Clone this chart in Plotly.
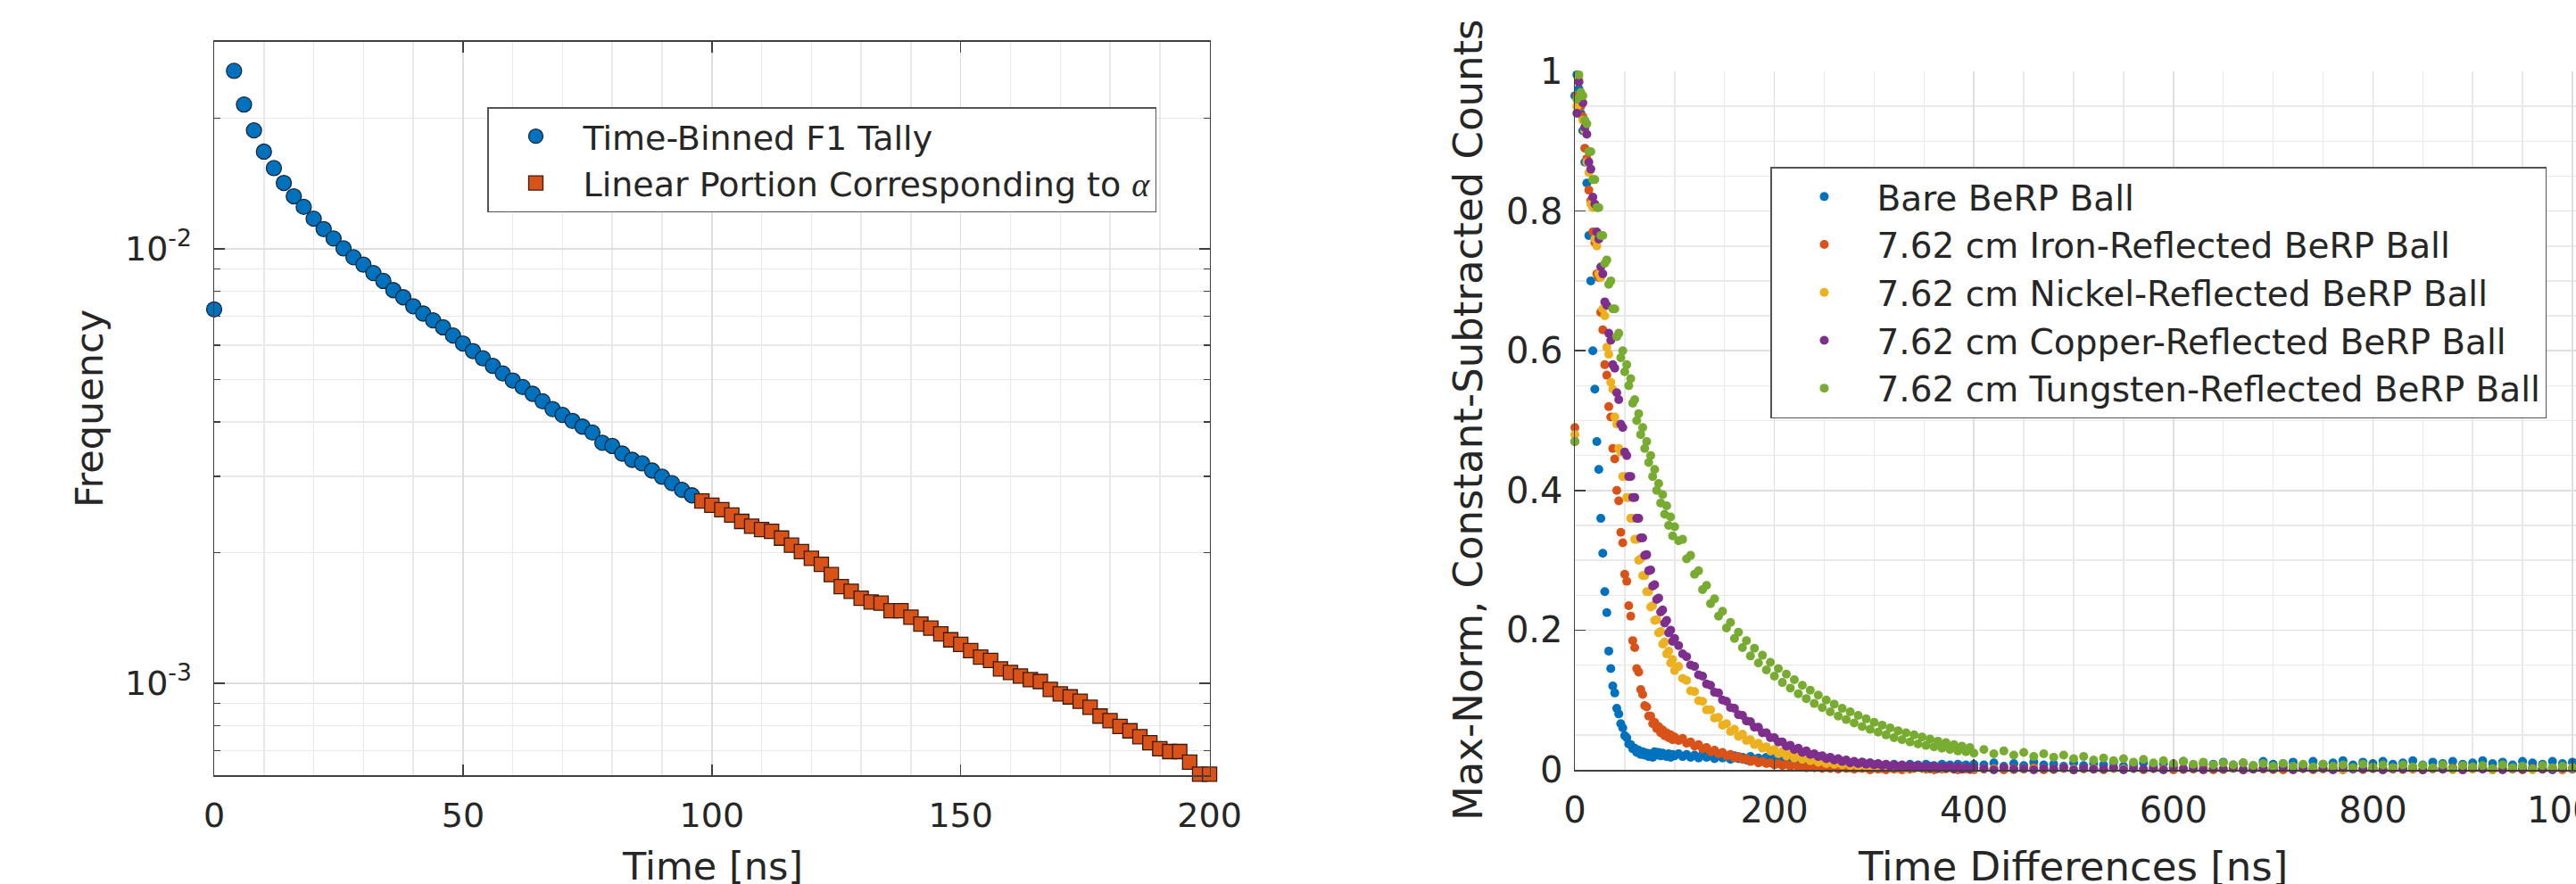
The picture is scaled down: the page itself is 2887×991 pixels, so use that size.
import math
import plotly.graph_objects as go

# ---------------- Left panel data (time-binned F1 tally) ----------------
t_tally = list(range(0, 97, 2))
freq_tally = [0.00726, 0.0300, 0.0257, 0.0215, 0.01875, 0.01675, 0.01535, 0.01419, 0.01322, 0.0125,
              0.01174, 0.01111, 0.01057, 0.01003, 0.00957, 0.00920, 0.0088, 0.00844, 0.00804, 0.00774,
              0.00738, 0.0071, 0.00685, 0.0066, 0.00632, 0.00606, 0.00582, 0.0056, 0.00538, 0.00517,
              0.00498, 0.00481, 0.00464, 0.00446, 0.00428, 0.00415, 0.00402, 0.0039, 0.00378, 0.00358,
              0.00352, 0.00338, 0.00327, 0.00321, 0.00309, 0.00299, 0.00289, 0.00279, 0.00271]
t_linear = list(range(98, 201, 2))
freq_linear = [0.00263, 0.00257, 0.00251, 0.00244, 0.00236, 0.0023, 0.00226, 0.00224, 0.00216, 0.00208,
               0.00201, 0.00194, 0.00188, 0.00178, 0.00167, 0.00163, 0.00157, 0.00154, 0.00153, 0.00147,
               0.00147, 0.00142, 0.00137, 0.00134, 0.0013, 0.00126, 0.00123, 0.00119, 0.00115, 0.00113,
               0.00108, 0.00106, 0.00104, 0.00102, 0.00101, 0.000969, 0.000946, 0.000931, 0.00091, 0.000881,
               0.000841, 0.000821, 0.000796, 0.000778, 0.000754, 0.00073, 0.000707, 0.000697, 0.000697, 0.000659,
               0.000618, 0.000618]
freq_tick_vals = [0.001, 0.01]
freq_tick_text = ["10<sup>-3</sup>", "10<sup>-2</sup>"]

# ---------------- Right panel data (time differences) ----------------
t_diff = list(range(0, 101, 2)) + list(range(104, 401, 4)) + list(range(410, 1001, 10))

bare = [0.965, 0.995, 0.975, 0.94, 0.915, 0.87, 0.84, 0.765, 0.70, 0.60,
        0.545, 0.47, 0.43, 0.36, 0.31, 0.255, 0.225, 0.17, 0.145, 0.12,
        0.11, 0.088, 0.08, 0.066, 0.06, 0.049, 0.046, 0.037, 0.036, 0.030,
        0.031, 0.025, 0.028, 0.022, 0.026, 0.021, 0.024, 0.019, 0.023, 0.018,
        0.026, 0.021, 0.025, 0.020, 0.024, 0.022, 0.019, 0.023, 0.018, 0.022,
        0.020,
        0.023, 0.019, 0.022, 0.018, 0.021, 0.017, 0.022, 0.018, 0.020, 0.016,
        0.021, 0.017, 0.019, 0.015, 0.020, 0.016, 0.018, 0.014, 0.019, 0.015,
        0.017, 0.014, 0.018, 0.013, 0.017, 0.014, 0.016, 0.012, 0.017, 0.013,
        0.012, 0.009, 0.013, 0.008, 0.012, 0.009, 0.011, 0.008, 0.012, 0.009,
        0.011, 0.007, 0.012, 0.008, 0.010, 0.007, 0.011, 0.008, 0.010, 0.007,
        0.008, 0.005, 0.007, 0.003, 0.008, 0.005, 0.006, 0.004, 0.008, 0.005,
        0.007, 0.003, 0.008, 0.005, 0.006, 0.004, 0.008, 0.005, 0.007, 0.004,
        0.008, 0.005, 0.007, 0.004, 0.008,
        0.007, 0.010, 0.005, 0.009, 0.006, 0.011, 0.007, 0.008, 0.005, 0.010,
        0.006, 0.009, 0.007, 0.011, 0.005, 0.008, 0.010, 0.006, 0.009, 0.007,
        0.012, 0.006, 0.009, 0.008, 0.011, 0.007, 0.010, 0.006, 0.012, 0.008,
        0.009, 0.011, 0.007, 0.012, 0.008, 0.010, 0.013, 0.007, 0.011, 0.009,
        0.012, 0.008, 0.010, 0.013, 0.007, 0.011, 0.009, 0.012, 0.008, 0.010,
        0.013, 0.009, 0.011, 0.007, 0.012, 0.010, 0.008, 0.012, 0.009, 0.011]

iron = [0.49, 0.965, 0.985, 0.95, 0.935, 0.89, 0.875, 0.83, 0.815, 0.77,
        0.755, 0.71, 0.705, 0.655, 0.63, 0.58, 0.565, 0.52, 0.505, 0.46,
        0.445, 0.40, 0.385, 0.34, 0.325, 0.28, 0.27, 0.235, 0.22, 0.185,
        0.175, 0.145, 0.14, 0.115, 0.108, 0.092, 0.09, 0.077, 0.077, 0.066,
        0.068, 0.059, 0.062, 0.053, 0.057, 0.049, 0.053, 0.046, 0.05, 0.043,
        0.047,
        0.042, 0.045, 0.038, 0.040, 0.034, 0.036, 0.030, 0.032, 0.026, 0.028,
        0.023, 0.025, 0.020, 0.022, 0.017, 0.019, 0.015, 0.016, 0.012, 0.014,
        0.010, 0.012, 0.009, 0.010, 0.007, 0.009, 0.006, 0.008, 0.005, 0.007,
        0.004, 0.006, 0.003, 0.005, 0.003, 0.005, 0.002, 0.004, 0.002, 0.004,
        0.001, 0.004, 0.002, 0.003, 0.001, 0.003, 0.002, 0.003, 0.000, 0.003,
        0.001, 0.002, 0.000, 0.003, 0.001, 0.002, 0.000, 0.003, 0.001, 0.002,
        -0.001, 0.002, 0.001, 0.002, 0.000, 0.002, 0.001, 0.002, -0.001, 0.002,
        0.000, 0.002, 0.001, 0.001, 0.000,
        0.001, 0.002, 0.000, 0.002, 0.001, 0.003, 0.000, 0.001, 0.002, 0.000,
        0.002, 0.001, 0.000, 0.002, 0.001, 0.003, 0.000, 0.002, 0.001, 0.000,
        0.002, 0.001, 0.003, 0.000, 0.001, 0.002, 0.000, 0.002, 0.001, 0.003,
        0.000, 0.001, 0.002, 0.000, 0.002, 0.001, 0.000, 0.003, 0.001, 0.002,
        0.000, 0.001, 0.002, 0.001, 0.000, 0.002, 0.001, 0.003, 0.000, 0.001,
        0.002, 0.000, 0.002, 0.001, 0.000, 0.002, 0.001, 0.003, 0.000, 0.002]

nickel = [0.48, 0.95, 0.99, 0.965, 0.93, 0.915, 0.87, 0.855, 0.81, 0.805,
          0.76, 0.75, 0.71, 0.705, 0.66, 0.65, 0.605, 0.595, 0.555, 0.545,
          0.505, 0.495, 0.46, 0.455, 0.42, 0.42, 0.39, 0.39, 0.36, 0.36,
          0.33, 0.33, 0.30, 0.302, 0.278, 0.278, 0.255, 0.255, 0.233, 0.235,
          0.214, 0.215, 0.196, 0.198, 0.18, 0.183, 0.166, 0.17, 0.153, 0.158,
          0.142,
          0.148, 0.131, 0.128, 0.113, 0.112, 0.099, 0.098, 0.086, 0.086, 0.074,
          0.075, 0.064, 0.066, 0.055, 0.058, 0.048, 0.051, 0.042, 0.043, 0.036,
          0.038, 0.031, 0.033, 0.027, 0.029, 0.023, 0.026, 0.020, 0.023, 0.017,
          0.020, 0.015, 0.018, 0.013, 0.016, 0.011, 0.014, 0.009, 0.012, 0.008,
          0.011, 0.007, 0.010, 0.006, 0.009, 0.005, 0.008, 0.005, 0.007, 0.004,
          0.007, 0.004, 0.006, 0.003, 0.006, 0.003, 0.005, 0.002, 0.005, 0.002,
          0.004, 0.002, 0.004, 0.001, 0.004, 0.002, 0.003, 0.001, 0.003, 0.001,
          0.003, 0.001, 0.002, 0.000, 0.002,
          0.002, 0.001, 0.003, 0.000, 0.002, 0.001, 0.002, 0.000, 0.003, 0.001,
          0.001, 0.002, 0.000, 0.003, 0.001, 0.002, 0.000, 0.002, 0.001, 0.003,
          0.000, 0.002, 0.001, 0.002, 0.000, 0.003, 0.001, 0.001, 0.002, 0.000,
          0.003, 0.001, 0.002, 0.000, 0.001, 0.003, 0.001, 0.002, 0.000, 0.002,
          0.001, 0.003, 0.000, 0.002, 0.001, 0.001, 0.003, 0.000, 0.002, 0.001,
          0.002, 0.000, 0.003, 0.001, 0.002, 0.000, 0.001, 0.002, 0.001, 0.003]

copper = [0.47, 0.94, 0.985, 0.96, 0.955, 0.92, 0.91, 0.87, 0.86, 0.82,
          0.81, 0.77, 0.76, 0.72, 0.71, 0.67, 0.665, 0.625, 0.615, 0.58,
          0.575, 0.54, 0.53, 0.495, 0.49, 0.455, 0.45, 0.42, 0.42, 0.39,
          0.39, 0.36, 0.36, 0.332, 0.332, 0.307, 0.308, 0.285, 0.286, 0.263,
          0.265, 0.244, 0.246, 0.226, 0.229, 0.21, 0.214, 0.196, 0.2, 0.184,
          0.188,
          0.178, 0.166, 0.162, 0.150, 0.148, 0.136, 0.134, 0.123, 0.121, 0.111,
          0.110, 0.100, 0.098, 0.089, 0.088, 0.079, 0.078, 0.070, 0.069, 0.061,
          0.061, 0.053, 0.053, 0.046, 0.046, 0.040, 0.040, 0.034, 0.035, 0.029,
          0.031, 0.025, 0.027, 0.022, 0.023, 0.019, 0.020, 0.016, 0.018, 0.014,
          0.016, 0.012, 0.014, 0.010, 0.012, 0.009, 0.011, 0.008, 0.010, 0.007,
          0.009, 0.006, 0.008, 0.005, 0.007, 0.004, 0.007, 0.004, 0.006, 0.003,
          0.006, 0.003, 0.005, 0.002, 0.005, 0.002, 0.004, 0.002, 0.004, 0.001,
          0.004, 0.001, 0.003, 0.001, 0.003,
          0.002, 0.000, 0.003, 0.001, 0.002, 0.000, 0.002, 0.001, 0.003, 0.000,
          0.002, 0.001, 0.001, 0.003, 0.000, 0.002, 0.001, 0.002, 0.000, 0.003,
          0.001, 0.002, 0.000, 0.002, 0.001, 0.003, 0.000, 0.001, 0.002, 0.001,
          0.003, 0.000, 0.002, 0.001, 0.002, 0.000, 0.003, 0.001, 0.001, 0.002,
          0.000, 0.002, 0.001, 0.003, 0.000, 0.002, 0.001, 0.002, 0.000, 0.003,
          0.001, 0.002, 0.000, 0.002, 0.001, 0.003, 0.001, 0.000, 0.002, 0.001]

tungsten = [0.47, 0.96, 0.995, 0.97, 0.965, 0.93, 0.925, 0.885, 0.885, 0.845,
            0.845, 0.805, 0.805, 0.765, 0.765, 0.725, 0.73, 0.695, 0.70, 0.66,
            0.66, 0.62, 0.625, 0.59, 0.60, 0.57, 0.58, 0.55, 0.56, 0.525,
            0.53, 0.50, 0.51, 0.48, 0.49, 0.46, 0.47, 0.44, 0.45, 0.42,
            0.43, 0.40, 0.41, 0.382, 0.394, 0.366, 0.378, 0.35, 0.362, 0.335,
            0.348,
            0.328, 0.330, 0.302, 0.307, 0.280, 0.285, 0.258, 0.264, 0.238, 0.245,
            0.220, 0.227, 0.203, 0.211, 0.188, 0.197, 0.175, 0.185, 0.163, 0.174,
            0.153, 0.164, 0.143, 0.154, 0.134, 0.145, 0.125, 0.137, 0.117, 0.129,
            0.109, 0.121, 0.102, 0.114, 0.095, 0.107, 0.089, 0.100, 0.083, 0.094,
            0.077, 0.088, 0.072, 0.083, 0.067, 0.078, 0.062, 0.073, 0.058, 0.068,
            0.054, 0.064, 0.050, 0.060, 0.046, 0.056, 0.043, 0.053, 0.040, 0.050,
            0.037, 0.047, 0.035, 0.044, 0.033, 0.041, 0.031, 0.039, 0.029, 0.036,
            0.027, 0.034, 0.026, 0.032, 0.024,
            0.029, 0.023, 0.027, 0.021, 0.025, 0.019, 0.023, 0.018, 0.021, 0.016,
            0.019, 0.014, 0.017, 0.013, 0.016, 0.011, 0.015, 0.010, 0.013, 0.009,
            0.012, 0.008, 0.011, 0.007, 0.010, 0.007, 0.010, 0.006, 0.009, 0.005,
            0.009, 0.005, 0.008, 0.004, 0.008, 0.005, 0.007, 0.003, 0.008, 0.004,
            0.007, 0.003, 0.007, 0.004, 0.006, 0.003, 0.007, 0.002, 0.006, 0.004,
            0.006, 0.002, 0.007, 0.003, 0.005, 0.002, 0.006, 0.003, 0.005, 0.002]

series_names = ["Bare BeRP Ball",
                "7.62 cm Iron-Reflected BeRP Ball",
                "7.62 cm Nickel-Reflected BeRP Ball",
                "7.62 cm Copper-Reflected BeRP Ball",
                "7.62 cm Tungsten-Reflected BeRP Ball"]
series_values = [bare, iron, nickel, copper, tungsten]
series_colors = ["#0072BD", "#D95319", "#EDB120", "#7E2F8E", "#77AC30"]

for s in series_values:
    assert len(s) == len(t_diff), (len(s), len(t_diff))
assert len(freq_tally) == len(t_tally)
assert len(freq_linear) == len(t_linear)

# ---------------- Figure ----------------
W, H = 2887, 991
FONT = "DejaVu Sans, Liberation Sans, Arial, sans-serif"
TXT = "#262626"
AXC = "#404040"
GRID = "#dedede"
MGRID = "#e9e9e9"


def px_x(p):
    return p / W


def px_y(p):
    return 1 - p / H


fig = go.Figure()

fig.add_trace(go.Scatter(
    x=t_tally, y=freq_tally, mode="markers", name="Time-Binned F1 Tally",
    marker=dict(symbol="circle", size=17, color="#0072BD",
                line=dict(color="#16283b", width=1.3)),
    xaxis="x", yaxis="y", legend="legend", cliponaxis=False))
fig.add_trace(go.Scatter(
    x=t_linear, y=freq_linear, mode="markers",
    name="Linear Portion Corresponding to <span style=\"font-family:Liberation Serif\"><i>α</i></span>",
    marker=dict(symbol="square", size=16, color="#D95319",
                line=dict(color="#3a1a0a", width=1.3)),
    xaxis="x", yaxis="y", legend="legend", cliponaxis=False))

for name, vals, col in zip(series_names, series_values, series_colors):
    fig.add_trace(go.Scatter(
        x=t_diff, y=vals, mode="markers", name=name,
        marker=dict(symbol="circle", size=10, color=col, line=dict(width=0)),
        xaxis="x2", yaxis="y2", legend="legend2", cliponaxis=False))


def axis_common(fs):
    return dict(
        showline=True, linecolor=AXC, linewidth=1.5,
        ticks="inside", tickcolor=AXC, tickwidth=1.5, ticklen=12,
        showgrid=True, gridcolor=GRID, gridwidth=1.5, zeroline=False,
        automargin=False, ticklabeloverflow="allow",
        tickfont=dict(family=FONT, size=fs, color=TXT),
    )


fig.update_layout(
    width=W, height=H,
    margin=dict(l=0, r=0, t=0, b=0, autoexpand=False),
    paper_bgcolor="white", plot_bgcolor="white",
    font=dict(family=FONT, color=TXT),
    xaxis=dict(
        domain=[px_x(240), px_x(1355.6)], range=[0, 200], anchor="y",
        tickmode="linear", tick0=0, dtick=50, mirror="ticks",
        minor=dict(dtick=10, showgrid=True, gridcolor=MGRID, gridwidth=1.5, ticks=""),
        ticklabelstandoff=11,
        **axis_common(38)),
    yaxis=dict(
        domain=[px_y(869.3), px_y(46.7)], type="log",
        range=[math.log10(6.14e-4), math.log10(0.03)], anchor="x",
        tickmode="array", tickvals=freq_tick_vals, ticktext=freq_tick_text,
        mirror="allticks",
        minor=dict(tickmode="linear", dtick="D1", showgrid=True, gridcolor=MGRID, gridwidth=1.5,
                   ticks="inside", ticklen=7, tickcolor=AXC, tickwidth=1.5),
        ticklabelstandoff=16,
        **axis_common(38)),
    xaxis2=dict(
        domain=[px_x(1765), 1.0], range=[0, 1000 * (W - 1765) / 1118.0], anchor="y2",
        tickmode="linear", tick0=0, dtick=200,
        minor=dict(dtick=50, showgrid=True, gridcolor=MGRID, gridwidth=1.5, ticks=""),
        ticklabelstandoff=9,
        **axis_common(40)),
    yaxis2=dict(
        domain=[px_y(863), px_y(80)], range=[0, 1], anchor="x2",
        tickmode="linear", tick0=0, dtick=0.2,
        minor=dict(dtick=0.05, showgrid=True, gridcolor=MGRID, gridwidth=1.5, ticks=""),
        ticklabelstandoff=4,
        **axis_common(40)),
    legend=dict(
        x=px_x(546), y=px_y(120), xanchor="left", yanchor="top",
        bgcolor="white", bordercolor="#555555", borderwidth=1.5,
        font=dict(family=FONT, size=38, color=TXT), itemwidth=96, tracegroupgap=0),
    legend2=dict(
        x=px_x(1984), y=px_y(187), xanchor="left", yanchor="top",
        bgcolor="white", bordercolor="#555555", borderwidth=1.5,
        font=dict(family=FONT, size=39, color=TXT), itemwidth=108, tracegroupgap=0),
    showlegend=True,
)

left_title = dict(family=FONT, size=43, color=TXT)
right_title = dict(family=FONT, size=45, color=TXT)
fig.add_annotation(text="Frequency", xref="paper", yref="paper",
                   x=px_x(100), y=px_y(458), xanchor="center", yanchor="middle",
                   textangle=-90, showarrow=False, font=left_title)
fig.add_annotation(text="Time [ns]", xref="paper", yref="paper",
                   x=px_x(798), y=px_y(971), xanchor="center", yanchor="middle",
                   showarrow=False, font=left_title)
fig.add_annotation(text="Max-Norm, Constant-Subtracted Counts", xref="paper", yref="paper",
                   x=px_x(1645), y=px_y(471), xanchor="center", yanchor="middle",
                   textangle=-90, showarrow=False, font=right_title)
fig.add_annotation(text="Time Differences [ns]", xref="paper", yref="paper",
                   x=px_x(2323), y=px_y(971), xanchor="center", yanchor="middle",
                   showarrow=False, font=right_title)

fig.write_html("out.html",
               config={"displayModeBar": False, "staticPlot": True},
               post_script="document.body.style.margin='0';document.body.style.overflow='hidden';")
